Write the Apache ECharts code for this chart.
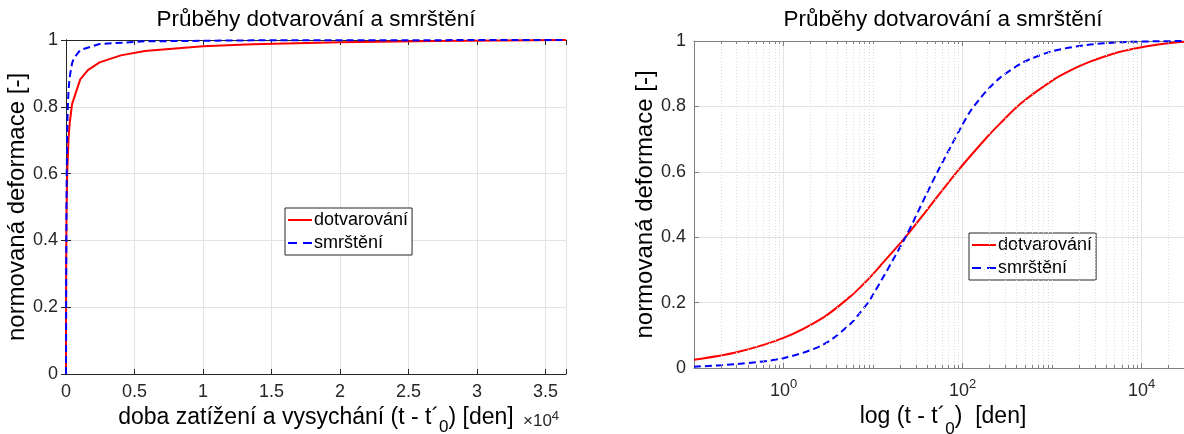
<!DOCTYPE html>
<html>
<head>
<meta charset="utf-8">
<script src="https://cdn.jsdelivr.net/npm/echarts@6/dist/echarts.min.js"></script>
<style>html,body{margin:0;padding:0;background:#fff;}#c{width:1184px;height:434px;}</style>
</head>
<body>
<div id="c"></div>
<script>
// ---- data ----
const titleText = 'Průběhy dotvarování a smrštění';
const seriesNames = ['dotvarování', 'smrštění'];
const creepT = [0.1, 0.3, 1, 2.8, 5.6, 7.2, 9.3, 12, 23, 40, 86.5, 186, 263, 442, 1040, 1600, 2450, 4000, 5750, 10000, 13600, 20000, 27000, 36500];
const creepV = [0.025, 0.048, 0.092, 0.155, 0.219, 0.247, 0.278, 0.312, 0.40, 0.483, 0.60, 0.705, 0.748, 0.808, 0.882, 0.910, 0.933, 0.954, 0.967, 0.981, 0.987, 0.993, 0.997, 1.0];
const shrinkT = [0.1, 0.3, 1, 2.8, 5.6, 7.2, 9.3, 23, 40, 52.5, 100, 122, 150, 186, 263, 442, 571, 1040, 2450, 5750, 13600, 36500];
const shrinkV = [0.004, 0.012, 0.03, 0.072, 0.135, 0.17, 0.21, 0.40, 0.535, 0.60, 0.745, 0.785, 0.818, 0.848, 0.888, 0.93, 0.945, 0.97, 0.988, 0.996, 0.999, 1.0];
const startT = 0, startV = 0;   // origin of the linear plot
const linMax = 36500;
const linTickStep = 5000;
const logMin = 0.1, logMax = 36500;

// ---- build ----
const font = 'Liberation Sans, Arial, Helvetica, sans-serif';
const pairs = (t, v) => t.map((x, i) => [x, v[i]]);
const linCreep = [[startT, startV]].concat(pairs(creepT, creepV));
const linShrink = [[startT, startV]].concat(pairs(shrinkT, shrinkV));
const logCreep = pairs(creepT, creepV);
const logShrink = pairs(shrinkT, shrinkV);

// minor log positions (2..9 x 10^k and odd decades)
const minorVals = [];
for (let k = -1; k <= 4; k++) {
  for (let m = 1; m <= 9; m++) {
    const v = m * Math.pow(10, k);
    if (v <= logMin || v >= logMax) continue;
    if (m === 1 && k % 2 === 0) continue;
    minorVals.push(+v.toPrecision(6));
  }
}

const axisCol = '#262626';
const axisCol2 = '#808080';
const gridCol = '#e3e3e3';
const tickFont = 18;

function yAx(grid, pos, col, showLabel, gap) {
  return {
    type: 'value', gridIndex: grid, position: pos, min: 0, max: 1, interval: 0.2,
    axisLine: { show: true, lineStyle: { color: col, width: 1 } },
    axisTick: { show: true, inside: true, length: 5, lineStyle: { color: col } },
    axisLabel: { show: showLabel, color: '#262626', fontSize: tickFont, fontFamily: font, margin: 8 },
    splitLine: { show: showLabel, lineStyle: { color: gridCol, width: 1 } },
    name: showLabel ? 'normovaná deformace [-]' : '',
    nameLocation: 'middle', nameGap: gap, nameRotate: 90,
    nameTextStyle: { fontSize: 24, color: '#000', fontFamily: font }
  };
}

function supFmt(v) {
  const e = Math.log10(v);
  const r = Math.round(e);
  if (Math.abs(e - r) > 1e-6 || r % 2 !== 0 || r < 0) return '';
  return '10{sup|' + r + '}';
}

const subRich = (pad) => ({ sub: { fontSize: 17, verticalAlign: 'bottom', padding: [pad, 0, 0, 0], fontFamily: font, color: '#000' } });

const legendBase = {
  data: [
    { name: seriesNames[0], icon: 'path://M0,0H24V2H0Z' },
    { name: seriesNames[1], icon: 'path://M0,0H9V2H0Z M15,0H24V2H15Z' }
  ],
  orient: 'vertical', padding: [3, 4, 3, 3], itemGap: 5, itemWidth: 24, itemHeight: 12,
  backgroundColor: '#fff', borderColor: '#262626', borderWidth: 1, borderRadius: 0,
  textStyle: { fontSize: 18, color: '#000', fontFamily: font, padding: [0, 0, 0, -3] },
  selectedMode: false
};

const option = {
  animation: false,
  backgroundColor: '#ffffff',
  grid: [
    { left: 66, width: 500, top: 40, height: 334, show: false, outerBoundsMode: 'none', containLabel: false },
    { left: 694, width: 498, top: 41, height: 327, show: false, outerBoundsMode: 'none', containLabel: false }
  ],
  xAxis: [
    {
      type: 'value', gridIndex: 0, position: 'bottom', min: 0, max: linMax, interval: linTickStep,
      axisLine: { show: true, onZero: false, lineStyle: { color: axisCol } },
      axisTick: { show: true, inside: true, length: 5, lineStyle: { color: axisCol } },
      axisLabel: { color: '#262626', fontSize: tickFont, fontFamily: font, margin: 9,
        formatter: v => (v % linTickStep === 0 ? String(v / 1e4) : '') },
      splitLine: { show: true, lineStyle: { color: gridCol } },
      name: 'doba zatížení a vysychání (t - t´{sub|0}) [den]',
      nameLocation: 'middle', nameGap: 25,
      nameTextStyle: { fontSize: 23, color: '#000', fontFamily: font, rich: subRich(20) }
    },
    {
      type: 'value', gridIndex: 0, position: 'top', min: 0, max: linMax, interval: linTickStep,
      axisLine: { show: true, onZero: false, lineStyle: { color: axisCol } },
      axisTick: { show: true, inside: true, length: 5, lineStyle: { color: axisCol } },
      axisLabel: { show: false }, splitLine: { show: false }
    },
    {
      type: 'log', logBase: 100, gridIndex: 1, position: 'bottom', min: logMin, max: logMax,
      axisLine: { show: true, onZero: false, lineStyle: { color: axisCol2 } },
      axisTick: { show: true, inside: true, length: 5, lineStyle: { color: axisCol2 } },
      axisLabel: { color: '#262626', fontSize: tickFont, fontFamily: font, margin: 10, formatter: supFmt,
        rich: { sup: { fontSize: 13, verticalAlign: 'top', padding: [0, 0, 14, 0], fontFamily: font, color: '#262626' } } },
      splitLine: { show: true, lineStyle: { color: gridCol } },
      name: 'log (t - t´{sub|0})  [den]',
      nameLocation: 'middle', nameGap: 28,
      nameTextStyle: { fontSize: 23, color: '#000', fontFamily: font, rich: subRich(24) }
    },
    {
      type: 'log', logBase: 100, gridIndex: 1, position: 'top', min: logMin, max: logMax,
      axisLine: { show: true, onZero: false, lineStyle: { color: axisCol2 } },
      axisTick: { show: true, inside: true, length: 5, lineStyle: { color: axisCol2 } },
      axisLabel: { show: false }, splitLine: { show: false }
    }
  ],
  yAxis: [
    yAx(0, 'left', axisCol, true, 33),
    yAx(0, 'right', axisCol, false, 0),
    yAx(1, 'left', axisCol2, true, 30),
    yAx(1, 'right', axisCol2, false, 0)
  ],
  legend: [
    Object.assign({}, legendBase, { left: 285, top: 208 }),
    Object.assign({}, legendBase, { left: 969, top: 233 })
  ],
  graphic: [
    { type: 'text', x: 316, y: 20, z: 10,
      style: { text: titleText, font: '22.5px ' + font, fill: '#000', align: 'center', verticalAlign: 'middle' } },
    { type: 'text', x: 943, y: 20, z: 10,
      style: { text: titleText, font: '22.5px ' + font, fill: '#000', align: 'center', verticalAlign: 'middle' } },
    { type: 'text', left: 523, top: 410, z: 10,
      style: { text: '×10{sup|4}', font: '17px ' + font, fill: '#262626',
        rich: { sup: { fontSize: 13, verticalAlign: 'top', padding: [0, 0, 10, 0], fontFamily: font, fill: '#262626' } } } }
  ],
  series: [
    {
      name: '_minorgrid', type: 'line', xAxisIndex: 2, yAxisIndex: 2, data: [], z: 1, silent: true,
      markLine: {
        silent: true, symbol: 'none', animation: false, label: { show: false },
        lineStyle: { color: '#dcdcdc', type: [1, 2], width: 1 },
        data: minorVals.map(v => ({ xAxis: v }))
      }
    },
    {
      name: '_minorticks', type: 'line', xAxisIndex: 2, yAxisIndex: 2, data: [], z: 1, silent: true,
      markLine: {
        silent: true, symbol: 'none', animation: false, label: { show: false },
        lineStyle: { color: axisCol2, type: 'solid', width: 1 },
        data: minorVals.map(v => [{ coord: [v, 0] }, { coord: [v, 0.009] }])
          .concat(minorVals.map(v => [{ coord: [v, 1] }, { coord: [v, 0.991] }]))
      }
    },
    {
      name: seriesNames[0], type: 'line', xAxisIndex: 0, yAxisIndex: 0, data: linCreep,
      showSymbol: false, symbol: 'none', smooth: false, clip: true, z: 3,
      lineStyle: { color: '#ff0000', width: 2 }, itemStyle: { color: '#ff0000' }
    },
    {
      name: seriesNames[1], type: 'line', xAxisIndex: 0, yAxisIndex: 0, data: linShrink,
      showSymbol: false, symbol: 'none', smooth: false, clip: true, z: 4,
      lineStyle: { color: '#0000ff', width: 2, type: [7, 4] }, itemStyle: { color: '#0000ff' }
    },
    {
      name: seriesNames[0], type: 'line', xAxisIndex: 2, yAxisIndex: 2, data: logCreep,
      showSymbol: false, symbol: 'none', smooth: 0.3, clip: true, z: 3,
      lineStyle: { color: '#ff0000', width: 2 }, itemStyle: { color: '#ff0000' }
    },
    {
      name: seriesNames[1], type: 'line', xAxisIndex: 2, yAxisIndex: 2, data: logShrink,
      showSymbol: false, symbol: 'none', smooth: 0.3, clip: true, z: 4,
      lineStyle: { color: '#0000ff', width: 2, type: [7, 4] }, itemStyle: { color: '#0000ff' }
    }
  ]
};

const chart = echarts.init(document.getElementById('c'), null, { renderer: 'canvas' });
chart.setOption(option);
</script>
</body>
</html>
